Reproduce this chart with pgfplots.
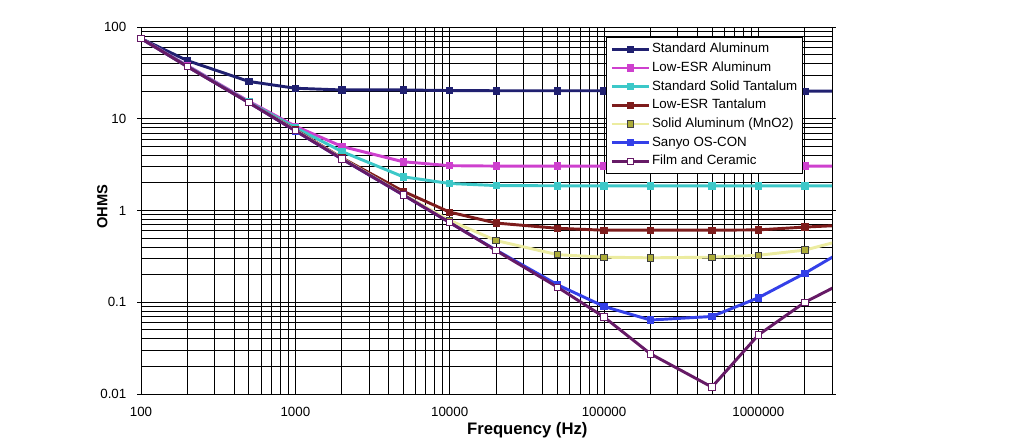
\documentclass[border=0pt]{standalone}
\usepackage{fontspec}
\setmainfont{Liberation Sans}
\usepackage{pgfplots}
\pgfplotsset{compat=1.18}
\definecolor{cNavy}{RGB}{32,32,112}
\definecolor{cMag}{RGB}{206,64,206}
\definecolor{cCyan}{RGB}{60,200,200}
\definecolor{cMaroon}{RGB}{125,28,28}
\definecolor{cYel}{RGB}{236,236,160}
\definecolor{cOlive}{RGB}{172,172,56}
\definecolor{cBlue}{RGB}{52,64,232}
\definecolor{cPurp}{RGB}{102,26,102}
\begin{document}
\begin{tikzpicture}
\begin{axis}[
  xmode=log, ymode=log,
  scale only axis, width=518.25pt, height=275.25pt,
  xmin=100, xmax=3e6, ymin=0.01, ymax=100,
  xtick={100,1000,10000,100000,1000000},
  xticklabels={100,1000,10000,100000,1000000},
  ytick={0.01,0.1,1,10,100},
  yticklabels={0.01,0.1,1,10,100},
  minor xtick={200,300,400,500,600,700,800,900,2000,3000,4000,5000,6000,7000,8000,9000,20000,30000,40000,50000,60000,70000,80000,90000,200000,300000,400000,500000,600000,700000,800000,900000,2000000,3000000},
  minor ytick={0.02,0.03,0.04,0.05,0.06,0.07,0.08,0.09,0.2,0.3,0.4,0.5,0.6,0.7,0.8,0.9,2,3,4,5,6,7,8,9,20,30,40,50,60,70,80,90},
  grid=both,
  major grid style={black, line width=0.6pt},
  minor grid style={black, line width=0.6pt},
  axis line style={black, line width=0.6pt},
  tick align=outside, major tick length=3pt, minor tick length=0pt,
  tick style={black, line width=0.6pt},
  xtick style={draw=none},
  ticklabel style={font=\fontsize{10}{12}\selectfont},
  xticklabel style={yshift=-3.5pt},
  yticklabel style={xshift=-4.5pt},
  xlabel={Frequency (Hz)},
  xlabel style={font=\bfseries\fontsize{12.5}{14}\selectfont, at={(axis description cs:0.559,-0.098)}, anchor=center},
  ylabel={OHMS},
  ylabel style={font=\bfseries\fontsize{11}{13}\selectfont, at={(axis description cs:-0.056,0.51)}, anchor=center},
  every axis plot/.append style={line width=2.2pt, mark size=2.4pt},
  legend image code/.code={\draw[mark repeat=2,mark phase=2,#1] plot coordinates {(0pt,0pt)(14pt,0pt)(28pt,0pt)};},
  legend cell align=left,
  legend style={at={(axis description cs:0.673,0.973)}, anchor=north west, draw=black, line width=0.6pt, fill=white,
    font=\fontsize{10}{12}\selectfont, inner xsep=3pt, inner ysep=2pt,
    nodes={text height=7.4pt, text depth=2pt, inner ysep=2.3pt, inner xsep=1pt}},
]
\addplot[color=cNavy, mark=square*, mark options={solid, line width=0.6pt, fill=cNavy, draw=cNavy}] coordinates {
(100,75)(200,43)(500,25.5)(1000,21.5)(2000,20.6)(5000,20.6)(10000,20.3)(20000,20.2)(50000,20.2)(100000,20.2)(200000,20.1)(500000,20.1)(1000000,20)(2000000,20)(5000000,20)};
\addlegendentry{Standard Aluminum}
\addplot[color=cMag, mark=square*, mark options={solid, line width=0.6pt, fill=cMag, draw=cMag}] coordinates {
(100,75)(200,38)(500,15.5)(1000,8.3)(2000,5.0)(5000,3.4)(10000,3.08)(20000,3.05)(50000,3.05)(100000,3.05)(200000,3.05)(500000,3.05)(1000000,3.05)(2000000,3.05)(5000000,3.05)};
\addlegendentry{Low-ESR Aluminum}
\addplot[color=cCyan, mark=square*, mark options={solid, line width=0.6pt, fill=cCyan, draw=cCyan}] coordinates {
(100,75)(200,37.5)(500,15.2)(1000,8.0)(2000,4.4)(5000,2.33)(10000,1.97)(20000,1.87)(50000,1.86)(100000,1.86)(200000,1.86)(500000,1.86)(1000000,1.86)(2000000,1.86)(5000000,1.86)};
\addlegendentry{Standard Solid Tantalum}
\addplot[color=cMaroon, mark=square*, mark options={solid, line width=0.6pt, fill=cMaroon, draw=cMaroon}] coordinates {
(100,75)(200,37)(500,15)(1000,7.6)(2000,3.75)(5000,1.62)(10000,0.96)(20000,0.73)(50000,0.64)(100000,0.61)(200000,0.61)(500000,0.61)(1000000,0.615)(2000000,0.66)(5000000,0.71)};
\addlegendentry{Low-ESR Tantalum}
\addplot[color=cYel, mark=square*, mark options={solid, line width=0.7pt, fill=cOlive, draw=black!75}] coordinates {
(100,75)(200,37)(500,15)(1000,7.5)(2000,3.7)(5000,1.5)(10000,0.78)(20000,0.47)(50000,0.33)(100000,0.31)(200000,0.305)(500000,0.31)(1000000,0.325)(2000000,0.37)(5000000,0.555)};
\addlegendentry{Solid Aluminum (MnO2)}
\addplot[color=cBlue, mark=square*, mark options={solid, line width=0.6pt, fill=cBlue, draw=cBlue}] coordinates {
(100,75)(200,37)(500,15)(1000,7.4)(2000,3.65)(5000,1.48)(10000,0.74)(20000,0.37)(50000,0.155)(100000,0.09)(200000,0.064)(500000,0.07)(1000000,0.112)(2000000,0.207)(5000000,0.51)};
\addlegendentry{Sanyo OS-CON}
\addplot[color=cPurp, mark=square*, mark options={solid, line width=0.7pt, fill=white, draw=cPurp}] coordinates {
(100,75)(200,37)(500,15)(1000,7.4)(2000,3.65)(5000,1.48)(10000,0.74)(20000,0.366)(50000,0.146)(100000,0.069)(200000,0.0274)(500000,0.0119)(1000000,0.044)(2000000,0.10)(5000000,0.22)};
\addlegendentry{Film and Ceramic}
\end{axis}
\path (current axis.south west) ++(-105.75pt,-39.75pt) rectangle ++(761.25pt,335.25pt);
\end{tikzpicture}
\end{document}
